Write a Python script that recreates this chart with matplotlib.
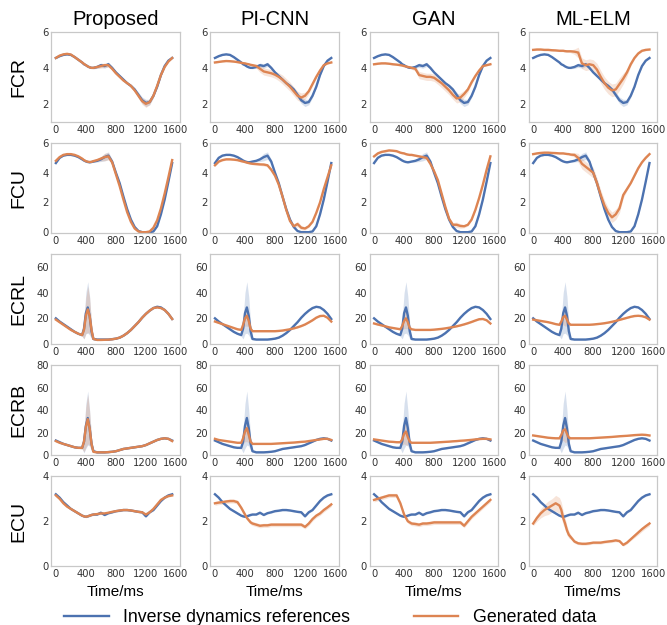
import numpy as np
import matplotlib
matplotlib.use('Agg')
import matplotlib.pyplot as plt
from matplotlib.lines import Line2D

# time axis (ms), denser around the 400 ms burst
t_ms = [0, 50, 100, 150, 200,
        250, 300, 350, 375, 400,
        425, 450, 475, 500, 550,
        600, 650, 700, 750, 800,
        850, 900, 950, 1000, 1050,
        1100, 1150, 1200, 1250, 1300,
        1350, 1400, 1450, 1500, 1550]

muscles = ['FCR', 'FCU', 'ECRL', 'ECRB', 'ECU']
methods = ['Proposed', 'PI-CNN', 'GAN', 'ML-ELM']

# ---- FCR ----
fcr_ref = [4.55, 4.65, 4.72, 4.75, 4.72,
           4.60, 4.45, 4.30, 4.20, 4.15,
           4.08, 4.03, 4.00, 4.00, 4.05,
           4.15, 4.10, 4.20, 4.00, 3.75,
           3.55, 3.35, 3.15, 3.00, 2.80,
           2.50, 2.20, 2.05, 2.10, 2.45,
           2.95, 3.60, 4.10, 4.40, 4.55]
fcr_ref_sd = [.03, .03, .03, .03, .03,
              .03, .03, .03, .03, .03,
              .03, .03, .03, .05, .08,
              .12, .12, .12, .08, .05,
              .05, .05, .05, .08, .10,
              .15, .18, .20, .15, .10,
              .05, .05, .03, .03, .03]
fcr_proposed = [4.55, 4.68, 4.75, 4.78, 4.74,
                4.60, 4.45, 4.30, 4.22, 4.15,
                4.08, 4.03, 4.00, 4.00, 4.05,
                4.10, 4.15, 4.15, 3.95, 3.70,
                3.50, 3.30, 3.15, 3.00, 2.75,
                2.45, 2.15, 2.00, 2.10, 2.45,
                3.00, 3.60, 4.05, 4.35, 4.55]
fcr_picnn = [4.30, 4.33, 4.36, 4.38, 4.37,
             4.35, 4.32, 4.28, 4.26, 4.25,
             4.22, 4.20, 4.17, 4.15, 4.10,
             3.95, 3.80, 3.75, 3.70, 3.62,
             3.50, 3.35, 3.15, 2.95, 2.70,
             2.45, 2.35, 2.45, 2.70, 3.10,
             3.50, 3.85, 4.15, 4.25, 4.30]
fcr_gan = [4.20, 4.23, 4.25, 4.25, 4.23,
           4.20, 4.18, 4.15, 4.13, 4.10,
           4.08, 4.05, 4.03, 4.00, 3.95,
           3.60, 3.55, 3.50, 3.50, 3.45,
           3.30, 3.15, 2.95, 2.75, 2.50,
           2.30, 2.35, 2.55, 2.80, 3.20,
           3.55, 3.85, 4.10, 4.15, 4.20]
fcr_mlelm = [5.00, 5.02, 5.02, 5.00, 5.00,
             4.98, 4.97, 4.95, 4.95, 4.95,
             4.93, 4.92, 4.92, 4.92, 4.90,
             4.85, 4.25, 4.15, 4.20, 4.15,
             3.90, 3.50, 3.15, 2.90, 2.75,
             2.80, 3.10, 3.40, 3.75, 4.20,
             4.55, 4.80, 4.95, 5.00, 5.02]
fcr_gen_sd = [.04, .04, .04, .04, .04,
              .04, .04, .04, .04, .04,
              .04, .04, .05, .08, .12,
              .20, .20, .20, .20, .20,
              .22, .25, .25, .25, .25,
              .25, .25, .20, .15, .10,
              .05, .04, .04, .04, .04]
fcr_mlelm_sd = [.05, .05, .05, .05, .05,
                .05, .05, .05, .05, .05,
                .05, .05, .05, .08, .15,
                .30, .30, .30, .30, .30,
                .35, .35, .35, .35, .35,
                .35, .35, .30, .20, .10,
                .06, .05, .05, .05, .05]

# ---- FCU ----
fcu_ref = [4.65, 5.00, 5.15, 5.20, 5.20,
           5.15, 5.05, 4.90, 4.82, 4.76,
           4.72, 4.70, 4.72, 4.75, 4.80,
           4.90, 5.05, 5.15, 4.75, 4.00,
           3.30, 2.40, 1.55, 0.85, 0.35,
           0.08, 0.00, 0.00, 0.00, 0.05,
           0.40, 1.20, 2.20, 3.40, 4.65]
fcu_ref_sd = [.03, .03, .03, .03, .03,
              .03, .03, .03, .03, .03,
              .03, .03, .03, .05, .08,
              .15, .25, .25, .15, .05,
              .05, .05, .05, .05, .05,
              .03, .03, .03, .03, .03,
              .03, .03, .03, .03, .03]
fcu_proposed = [4.80, 5.05, 5.20, 5.25, 5.25,
                5.20, 5.10, 4.95, 4.85, 4.78,
                4.74, 4.72, 4.73, 4.78, 4.85,
                4.95, 5.05, 5.10, 4.70, 3.90,
                3.10, 2.20, 1.35, 0.70, 0.25,
                0.05, 0.00, 0.00, 0.05, 0.30,
                0.80, 1.60, 2.60, 3.70, 4.85]
fcu_picnn = [4.50, 4.75, 4.85, 4.90, 4.90,
             4.88, 4.85, 4.78, 4.75, 4.72,
             4.68, 4.65, 4.62, 4.60, 4.58,
             4.56, 4.55, 4.50, 4.20, 3.80,
             3.20, 2.40, 1.50, 0.75, 0.40,
             0.55, 0.30, 0.25, 0.40, 0.70,
             1.30, 2.00, 2.90, 3.70, 4.50]
fcu_gan = [5.10, 5.30, 5.40, 5.45, 5.50,
           5.48, 5.45, 5.35, 5.32, 5.30,
           5.25, 5.22, 5.20, 5.20, 5.15,
           5.10, 5.05, 5.00, 4.60, 4.10,
           3.50, 2.60, 1.70, 0.90, 0.50,
           0.50, 0.42, 0.40, 0.50, 0.85,
           1.50, 2.30, 3.20, 4.20, 5.10]
fcu_mlelm = [5.25, 5.30, 5.33, 5.35, 5.35,
             5.33, 5.32, 5.30, 5.30, 5.30,
             5.28, 5.26, 5.25, 5.22, 5.20,
             5.00, 4.60, 4.40, 4.20, 4.00,
             3.30, 2.50, 1.80, 1.30, 1.00,
             1.20, 1.60, 2.50, 2.90, 3.30,
             3.80, 4.30, 4.70, 5.00, 5.25]
fcu_gen_sd = [.06, .06, .06, .06, .06,
              .06, .06, .06, .06, .06,
              .06, .06, .06, .06, .06,
              .08, .10, .10, .10, .10,
              .10, .10, .10, .12, .15,
              .18, .15, .10, .08, .06,
              .06, .06, .06, .06, .06]
fcu_mlelm_sd = [.05, .05, .05, .05, .05,
                .05, .05, .05, .05, .05,
                .05, .05, .05, .08, .15,
                .30, .35, .35, .35, .35,
                .35, .35, .35, .35, .35,
                .35, .30, .20, .10, .06,
                .05, .05, .05, .05, .05]

# ---- ECRL ----
ecrl_ref = [20.0, 17.5, 15.5, 13.5, 11.5,
            9.5, 8.0, 7.0, 12.0, 24.0,
            28.5, 22.0, 10.0, 4.0, 3.5,
            3.5, 3.5, 3.5, 3.8, 4.2,
            5.0, 6.5, 8.5, 11.0, 14.0,
            17.0, 20.5, 23.5, 26.0, 28.0,
            29.0, 28.5, 26.5, 23.5, 19.5]
ecrl_ref_sd = [.5, .5, .5, .5, .5,
               .5, .5, 1.0, 8.0, 16.0,
               20.0, 15.0, 6.0, 1.0, .5,
               .5, .5, .5, .5, .5,
               .5, .5, .5, .5, .5,
               .5, .5, .5, .5, .5,
               .5, .5, .5, .5, .5]
ecrl_proposed = [19.0, 17.0, 15.0, 13.0, 11.0,
                 9.5, 8.0, 7.0, 11.0, 22.0,
                 27.0, 22.0, 11.0, 4.0, 3.2,
                 3.2, 3.3, 3.4, 3.7, 4.2,
                 5.0, 6.5, 8.5, 11.0, 14.0,
                 17.0, 20.5, 23.5, 26.0, 28.0,
                 28.5, 28.0, 26.5, 23.5, 19.5]
ecrl_picnn = [17.5, 16.5, 15.5, 14.5, 13.5,
              12.5, 11.5, 11.0, 15.0, 20.0,
              22.0, 18.0, 12.0, 10.0, 10.0,
              10.0, 10.0, 10.0, 10.0, 10.0,
              10.2, 10.5, 11.0, 11.5, 12.2,
              13.0, 14.0, 15.2, 16.8, 18.5,
              20.5, 21.8, 22.0, 20.5, 17.5]
ecrl_gan = [16.0, 15.2, 14.5, 13.8, 13.0,
            12.5, 12.0, 11.5, 14.0, 18.0,
            20.0, 17.0, 12.5, 11.5, 11.0,
            11.0, 11.0, 11.0, 11.0, 11.2,
            11.5, 11.8, 12.2, 12.7, 13.2,
            13.8, 14.5, 15.3, 16.2, 17.2,
            18.3, 19.3, 19.5, 18.5, 16.0]
ecrl_mlelm = [19.0, 18.5, 18.0, 17.5, 17.0,
              16.3, 15.5, 15.0, 17.5, 21.0,
              22.0, 19.0, 16.0, 15.0, 15.0,
              15.0, 15.0, 15.0, 15.0, 15.2,
              15.5, 15.8, 16.2, 16.7, 17.3,
              18.0, 18.8, 19.6, 20.4, 21.2,
              21.8, 22.0, 21.7, 20.8, 19.0]
ecrl_proposed_sd = [.5, .5, .5, .5, .5,
                    .5, .5, 1.0, 7.0, 14.0,
                    18.0, 14.0, 6.0, 1.0, .5,
                    .5, .5, .5, .5, .5,
                    .5, .5, .5, .5, .5,
                    .5, .5, .5, .5, .5,
                    .5, .5, .5, .5, .5]
ecrl_peak_sd = [.5, .5, .5, .5, .5,
                .5, .5, .8, 3.0, 6.0,
                8.0, 5.0, 2.0, .5, .5,
                .5, .5, .5, .5, .5,
                .5, .5, .5, .5, .5,
                .5, .5, .5, .5, .5,
                .5, .5, .5, .5, .5]

# ---- ECRB ----
ecrb_ref = [13.0, 11.5, 10.0, 9.0, 8.0,
            7.0, 6.5, 6.5, 12.0, 26.0,
            33.0, 24.0, 10.0, 3.5, 2.5,
            2.5, 2.5, 2.7, 3.0, 3.5,
            4.5, 5.5, 6.0, 6.5, 7.0,
            7.5, 8.0, 9.0, 10.5, 12.0,
            13.5, 14.5, 15.0, 14.5, 13.0]
ecrb_ref_sd = [.5, .5, .5, .5, .5,
               .5, .5, 1.0, 10.0, 20.0,
               24.0, 16.0, 6.0, 1.0, .5,
               .5, .5, .5, .5, .5,
               .5, .5, .5, .5, .5,
               .5, .5, .5, .5, .5,
               .5, .5, .5, .5, .5]
ecrb_proposed = [12.5, 11.0, 10.0, 9.0, 8.0,
                 7.0, 6.5, 6.5, 12.0, 25.0,
                 32.0, 24.0, 10.0, 3.0, 2.5,
                 2.5, 2.5, 2.7, 3.0, 3.5,
                 4.5, 5.5, 6.0, 6.5, 7.0,
                 7.5, 8.0, 9.0, 10.5, 12.0,
                 13.5, 14.5, 15.0, 14.5, 12.5]
ecrb_picnn = [14.5, 13.5, 13.0, 12.5, 12.0,
              11.5, 11.0, 11.0, 15.0, 21.0,
              24.0, 18.0, 12.0, 10.0, 10.0,
              10.0, 10.0, 10.0, 10.0, 10.2,
              10.4, 10.6, 10.8, 11.0, 11.2,
              11.5, 11.8, 12.0, 12.5, 13.0,
              13.5, 14.0, 14.5, 14.5, 13.5]
ecrb_gan = [14.0, 13.5, 13.0, 12.5, 12.0,
            11.8, 11.5, 11.5, 14.0, 19.0,
            21.0, 16.0, 12.0, 11.0, 11.0,
            11.0, 11.0, 11.0, 11.0, 11.2,
            11.4, 11.6, 11.8, 12.0, 12.3,
            12.5, 12.8, 13.0, 13.3, 13.6,
            14.0, 14.3, 14.5, 14.5, 14.0]
ecrb_mlelm = [17.5, 17.0, 16.5, 16.0, 15.5,
              15.2, 15.0, 15.0, 18.0, 22.0,
              23.0, 19.0, 15.5, 15.0, 15.0,
              15.0, 15.0, 15.0, 15.0, 15.2,
              15.4, 15.6, 15.8, 16.0, 16.2,
              16.5, 16.8, 17.0, 17.2, 17.5,
              17.8, 18.0, 18.2, 18.0, 17.5]
ecrb_proposed_sd = [.5, .5, .5, .5, .5,
                    .5, .5, 1.0, 9.0, 18.0,
                    22.0, 15.0, 6.0, 1.0, .5,
                    .5, .5, .5, .5, .5,
                    .5, .5, .5, .5, .5,
                    .5, .5, .5, .5, .5,
                    .5, .5, .5, .5, .5]
ecrb_peak_sd = [.5, .5, .5, .5, .5,
                .5, .5, .8, 5.0, 9.0,
                12.0, 7.0, 3.0, .5, .5,
                .5, .5, .5, .5, .5,
                .5, .5, .5, .5, .5,
                .5, .5, .5, .5, .5,
                .5, .5, .5, .5, .5]

# ---- ECU ----
ecu_ref = [3.20, 3.05, 2.85, 2.70, 2.55,
           2.45, 2.35, 2.25, 2.22, 2.20,
           2.22, 2.25, 2.28, 2.30, 2.30,
           2.38, 2.28, 2.36, 2.40, 2.45,
           2.47, 2.50, 2.50, 2.48, 2.45,
           2.42, 2.40, 2.22, 2.40, 2.50,
           2.70, 2.90, 3.05, 3.15, 3.20]
ecu_proposed = [3.15, 3.00, 2.80, 2.65, 2.55,
                2.45, 2.35, 2.25, 2.22, 2.20,
                2.22, 2.25, 2.28, 2.30, 2.32,
                2.35, 2.35, 2.38, 2.42, 2.45,
                2.48, 2.50, 2.50, 2.48, 2.45,
                2.42, 2.40, 2.30, 2.40, 2.55,
                2.75, 2.95, 3.05, 3.12, 3.15]
ecu_picnn = [2.80, 2.83, 2.85, 2.88, 2.90,
             2.90, 2.85, 2.60, 2.45, 2.30,
             2.15, 2.05, 1.95, 1.90, 1.85,
             1.80, 1.82, 1.82, 1.85, 1.85,
             1.85, 1.85, 1.85, 1.85, 1.85,
             1.85, 1.85, 1.75, 1.90, 2.10,
             2.25, 2.35, 2.50, 2.62, 2.75]
ecu_gan = [2.95, 3.00, 3.05, 3.10, 3.15,
           3.15, 3.15, 2.80, 2.55, 2.30,
           2.15, 2.00, 1.95, 1.90, 1.88,
           1.85, 1.90, 1.90, 1.92, 1.95,
           1.95, 1.95, 1.95, 1.95, 1.95,
           1.95, 1.95, 1.80, 2.00, 2.20,
           2.35, 2.50, 2.65, 2.80, 2.95]
ecu_mlelm = [1.90, 2.15, 2.35, 2.50, 2.60,
             2.70, 2.80, 2.70, 2.50, 2.15,
             1.90, 1.60, 1.40, 1.30, 1.10,
             1.02, 1.00, 1.00, 1.02, 1.05,
             1.05, 1.05, 1.08, 1.10, 1.12,
             1.15, 1.12, 0.95, 1.05, 1.20,
             1.35, 1.50, 1.65, 1.78, 1.90]
ecu_ref_sd = 0.04
ecu_gen_sd = 0.09
ecu_mlelm_sd = [.10, .15, .20, .25, .30,
                .30, .35, .35, .35, .30,
                .25, .20, .15, .10, .08,
                .06, .06, .06, .06, .06,
                .06, .06, .06, .06, .06,
                .06, .06, .06, .06, .06,
                .08, .10, .10, .10, .10]

ylims = [(1, 6), (-0.05, 6), (0, 70), (0, 80), (0, 4)]
yticks = [[2, 4, 6], [0, 2, 4, 6], [0, 20, 40, 60], [0, 20, 40, 60, 80], [0, 2, 4]]

ref_data = [(fcr_ref, fcr_ref_sd), (fcu_ref, fcu_ref_sd), (ecrl_ref, ecrl_ref_sd),
            (ecrb_ref, ecrb_ref_sd), (ecu_ref, ecu_ref_sd)]
gen_data = [
    [(fcr_proposed, fcr_ref_sd), (fcr_picnn, fcr_gen_sd), (fcr_gan, fcr_gen_sd), (fcr_mlelm, fcr_mlelm_sd)],
    [(fcu_proposed, fcu_ref_sd), (fcu_picnn, fcu_gen_sd), (fcu_gan, fcu_gen_sd), (fcu_mlelm, fcu_mlelm_sd)],
    [(ecrl_proposed, ecrl_proposed_sd), (ecrl_picnn, ecrl_peak_sd), (ecrl_gan, ecrl_peak_sd), (ecrl_mlelm, ecrl_peak_sd)],
    [(ecrb_proposed, ecrb_proposed_sd), (ecrb_picnn, ecrb_peak_sd), (ecrb_gan, ecrb_peak_sd), (ecrb_mlelm, ecrb_peak_sd)],
    [(ecu_proposed, ecu_ref_sd), (ecu_picnn, ecu_gen_sd), (ecu_gan, ecu_gen_sd), (ecu_mlelm, ecu_mlelm_sd)],
]

BLUE = '#4c72b0'
ORANGE = '#dd8452'
SANS = ['Liberation Sans', 'DejaVu Sans']


def draw_line(ax, x, y, sd, color):
    y = np.array(y)
    sd = np.broadcast_to(np.array(sd, dtype=float), y.shape)
    ax.fill_between(x, y - sd, y + sd, color=color, alpha=0.22, linewidth=0)
    ax.plot(x, y, color=color, linewidth=1.7)


fig, axes = plt.subplots(5, 4, figsize=(6.67, 6.25), dpi=100)
fig.subplots_adjust(left=0.077, right=0.985, top=0.949, bottom=0.094,
                    wspace=0.24, hspace=0.235)

x = np.array(t_ms)
for r in range(5):
    for c in range(4):
        ax = axes[r, c]
        gy, gsd = gen_data[r][c]
        ry, rsd = ref_data[r]
        draw_line(ax, x, ry, rsd, BLUE)
        draw_line(ax, x, gy, gsd, ORANGE)
        ax.set_xlim(-60, 1650)
        ax.set_ylim(*ylims[r])
        ax.set_xticks([0, 400, 800, 1200, 1600])
        ax.set_yticks(yticks[r])
        ax.tick_params(length=0, labelsize=7.2, pad=2, colors='#333333')
        for s in ax.spines.values():
            s.set_color('#c8c8c8')
            s.set_linewidth(0.9)
        if r == 0:
            ax.set_title(methods[c], fontsize=14.5, family=SANS, pad=5)
        if r == 4:
            ax.set_xlabel('Time/ms', fontsize=11, family=SANS, labelpad=4)
    bb = axes[r, 0].get_position()
    fig.text(0.029, (bb.y0 + bb.y1) / 2, muscles[r], rotation=90, fontsize=14,
             family=SANS, ha='center', va='center')

handles = [Line2D([], [], color=BLUE, linewidth=1.7),
           Line2D([], [], color=ORANGE, linewidth=1.7)]
fig.legend(handles, ['Inverse dynamics references', 'Generated data'],
           loc='lower center', bbox_to_anchor=(0.495, -0.027), ncol=2, frameon=False,
           prop={'family': SANS, 'size': 12.8}, handlelength=2.5, columnspacing=3.6)

fig.savefig('out.png', dpi=100)
